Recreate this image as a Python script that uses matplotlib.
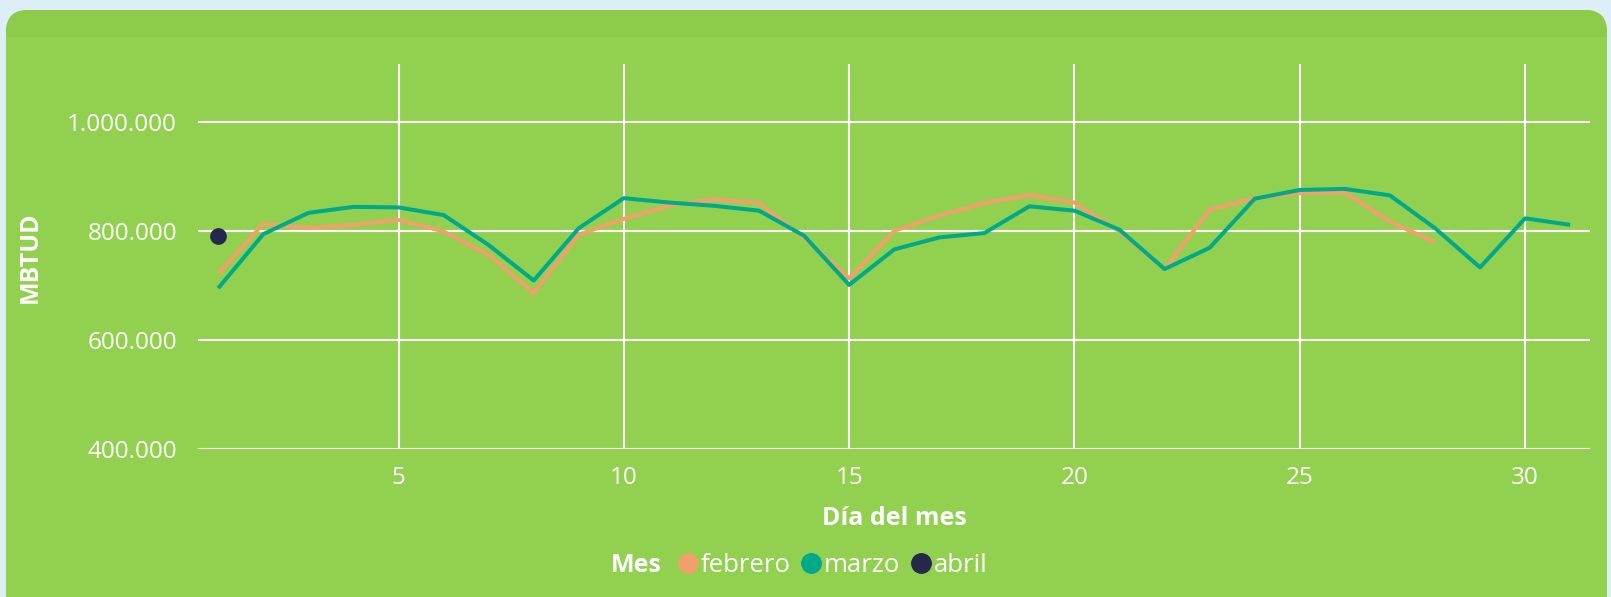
import matplotlib.pyplot as plt
from matplotlib.patches import FancyBboxPatch, Rectangle
from matplotlib.lines import Line2D
from matplotlib.ticker import FuncFormatter
from matplotlib.transforms import Affine2D

plt.rcParams['font.family'] = ['Open Sans', 'DejaVu Sans']

# data (MBTUD per day)
dias_feb = list(range(1, 29))
febrero = [722000, 813000, 805000, 811000, 820000, 799000, 756000, 686000, 793000, 822000,
           846000, 858000, 851000, 787000, 713000, 800000, 828000, 851000, 866000, 852000,
           799000, 730000, 839000, 860000, 869000, 870000, 817000, 779000]
dias_mar = list(range(1, 32))
marzo = [695000, 794000, 833000, 844000, 843000, 829000, 774000, 709000, 805000, 860000,
         852000, 846000, 837000, 791000, 701000, 766000, 788000, 796000, 845000, 837000,
         802000, 730000, 769000, 859000, 875000, 877000, 865000, 805000, 733000, 823000,
         811000]
dias_abr = [1]
abril = [791000]

c_feb = "#F2A06B"
c_mar = "#00A98A"
c_abr = "#24284A"
green = "#92D050"
white = "white"

W, H = 1611, 597
fig = plt.figure(figsize=(W / 100, H / 100), dpi=100)
fig.patch.set_facecolor("#DDEEF6")

# pixel coordinates (y measured from the bottom)
px = Affine2D().scale(1 / W, 1 / H) + fig.transFigure

# card background with a slightly darker header strip
card = FancyBboxPatch((6, -40), 1601, H - 10 + 40,
                      boxstyle="round,pad=0,rounding_size=22",
                      transform=px, facecolor=green, edgecolor="none", zorder=-10)
fig.patches.append(card)
band = Rectangle((6, H - 37), 1601, 27, transform=px,
                 facecolor="#8ECB4B", edgecolor="none", zorder=-9)
band.set_clip_path(card)
fig.patches.append(band)

ax = fig.add_axes([198 / W, 1 - 449 / H, (1590 - 198) / W, (449 - 64) / H])
ax.set_facecolor("none")
for s in ax.spines.values():
    s.set_visible(False)

ax.plot(dias_feb, febrero, color=c_feb, linewidth=2.9, solid_capstyle="butt")
ax.plot(dias_mar, marzo, color=c_mar, linewidth=2.9, solid_capstyle="butt")
ax.plot(dias_abr, abril, "o", color=c_abr, markersize=11)

ax.set_xlim(0.55, 31.44)
ax.set_ylim(400000, 1106000)
ax.set_xticks([5, 10, 15, 20, 25, 30])
ax.set_yticks([400000, 600000, 800000, 1000000])
ax.yaxis.set_major_formatter(FuncFormatter(lambda v, p: f"{int(v):,}".replace(",", ".")))
ax.grid(True, color=white, linewidth=1.5)
ax.set_axisbelow(True)
ax.tick_params(length=0, colors=white, labelsize=17.5)
ax.tick_params(axis="y", pad=15)
ax.tick_params(axis="x", pad=12)

ax.set_xlabel("Día del mes", color=white, fontsize=18, fontweight="bold", labelpad=12)
fig.text(30 / W, 1 - 257 / H, "MBTUD", color=white, fontsize=18, fontweight="bold",
         rotation=90, ha="center", va="center")

# legend
fig.text(611 / W, 1 - 565 / H, "Mes", color=white, fontsize=18, fontweight="bold",
         ha="left", va="center")
handles = [Line2D([], [], marker="o", linestyle="none", color=c, markersize=14)
           for c in (c_feb, c_mar, c_abr)]
leg = fig.legend(handles, ["febrero", "marzo", "abril"], ncol=3, frameon=False,
                 loc="center left", bbox_to_anchor=(675 / W, 1 - 565 / H),
                 handlelength=1.0, handletextpad=0.0, columnspacing=0.3,
                 fontsize=18.5, borderaxespad=0, borderpad=0)
for t in leg.get_texts():
    t.set_color(white)

fig.savefig("out.png", dpi=100, facecolor=fig.get_facecolor())
